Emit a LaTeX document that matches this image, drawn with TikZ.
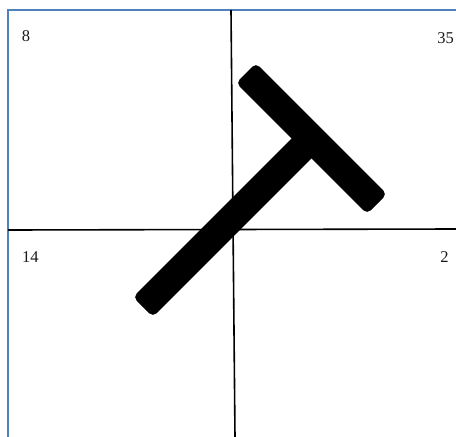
\documentclass[tikz,border=0pt]{standalone}
\usepackage{fontspec}
\setmainfont{Liberation Serif}
\definecolor{frameblue}{RGB}{79,129,189}
\definecolor{numgray}{RGB}{25,25,25}
\begin{document}
\begin{tikzpicture}[x=1pt,y=-1pt,
  num/.style={font=\fontsize{16.5}{19}\selectfont, text=numgray, inner sep=0pt, anchor=center},
  frame/.style={draw=frameblue, line width=2.2pt},
  axis/.style={draw=black, line width=1.6pt},
  bar/.style={fill=black, rounded corners=5pt}]
\useasboundingbox (0,0) rectangle (456,437);
\fill[white] (0,0) rectangle (456,437);
% frame
\draw[frame] (456,10) -- (8,10) -- (8,437);
% axes
\draw[axis] (231,10) -- (235,437);
\draw[axis] (8,230) -- (456,229);
% T shape
\fill[bar] (301.6,128.6) -- (321.4,148.4) -- (152.9,316.9) -- (133.1,297.1) -- cycle;
\fill[bar] (255.9,63.1) -- (386.9,194.1) -- (367.1,213.9) -- (236.1,82.9) -- cycle;
% numbers
\node[num] (n8) at (26,36) {8};
\node[num] (n35) at (445.5,38) {35};
\node[num] (n14) at (30.5,257) {14};
\node[num] (n2) at (444.5,257.5) {2};
\end{tikzpicture}
\end{document}
